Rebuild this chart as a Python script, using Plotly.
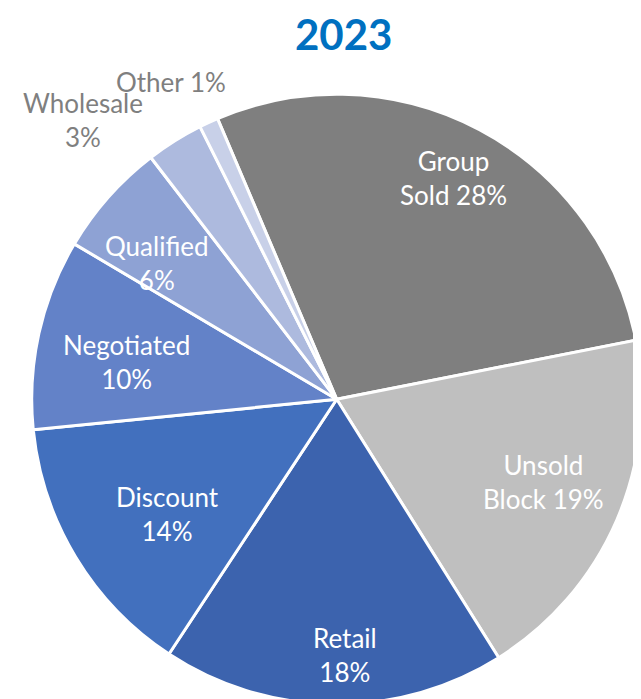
import math
import plotly.graph_objects as go

categories = ["Group Sold", "Unsold Block", "Retail", "Discount", "Negotiated", "Qualified", "Wholesale", "Other"]
values = [28, 19, 18, 14, 10, 6, 3, 1]
label_text = ["Group<br>Sold 28%", "Unsold<br>Block 19%", "Retail<br>18%", "Discount<br>14%",
              "Negotiated<br>10%", "Qualified<br>6%", "Wholesale<br>3%", "Other 1%"]

# styles
colors = ["#7f7f7f", "#bfbfbf", "#3c63ae", "#4270be", "#6382c8", "#8ea2d4", "#adbade", "#c8d0e8"]
text_colors = ["white"] * 6 + ["#7f7f7f", "#7f7f7f"]
label_radius = [0.82, 0.73, 0.84, 0.67, 0.70, 0.74, 1.236, 1.174]
label_angle_shift = [0, -1.5, -2.4, -3.1, -2.4, -4.3, -10.2, -2.8]

# page has an 8px body margin; figure is laid out accordingly
W, H = 641, 700
rotation = -23
dom_x = [0.0370, 0.9886]
dom_y = [0.0053, 0.8767]

fig = go.Figure(go.Pie(
    labels=categories,
    values=values,
    textinfo="none",
    marker=dict(colors=colors, line=dict(color="white", width=3)),
    sort=False,
    direction="clockwise",
    rotation=rotation,
    showlegend=False,
    domain=dict(x=dom_x, y=dom_y),
    hoverinfo="label+percent",
))

# label placement derived from the data (mid-angle of each slice)
cx_px = (dom_x[0] + dom_x[1]) / 2 * W
cy_px = (dom_y[0] + dom_y[1]) / 2 * H
r_px = min((dom_x[1] - dom_x[0]) * W, (dom_y[1] - dom_y[0]) * H) / 2
total = sum(values)
start = rotation
annotations = []
for i, v in enumerate(values):
    span = v / total * 360
    mid = start + span / 2 + label_angle_shift[i]
    start += span
    rr = label_radius[i] * r_px
    x = (cx_px + rr * math.sin(math.radians(mid))) / W
    y = (cy_px + rr * math.cos(math.radians(mid))) / H
    annotations.append(dict(
        x=x, y=y, xref="paper", yref="paper", text=label_text[i], showarrow=False,
        xanchor="center", yanchor="middle", align="center",
        font=dict(family="Lato", size=26, color=text_colors[i]),
    ))

annotations.append(dict(
    x=335 / W, y=1.0, xref="paper", yref="paper", text="<b>2023</b>", showarrow=False,
    xanchor="center", yanchor="top", borderpad=0,
    font=dict(family="Lato", size=42, color="#0070c0"),
))

fig.update_layout(
    width=W, height=H,
    margin=dict(l=0, r=0, t=0, b=0),
    paper_bgcolor="white",
    annotations=annotations,
)

fig.write_html("out.html")
